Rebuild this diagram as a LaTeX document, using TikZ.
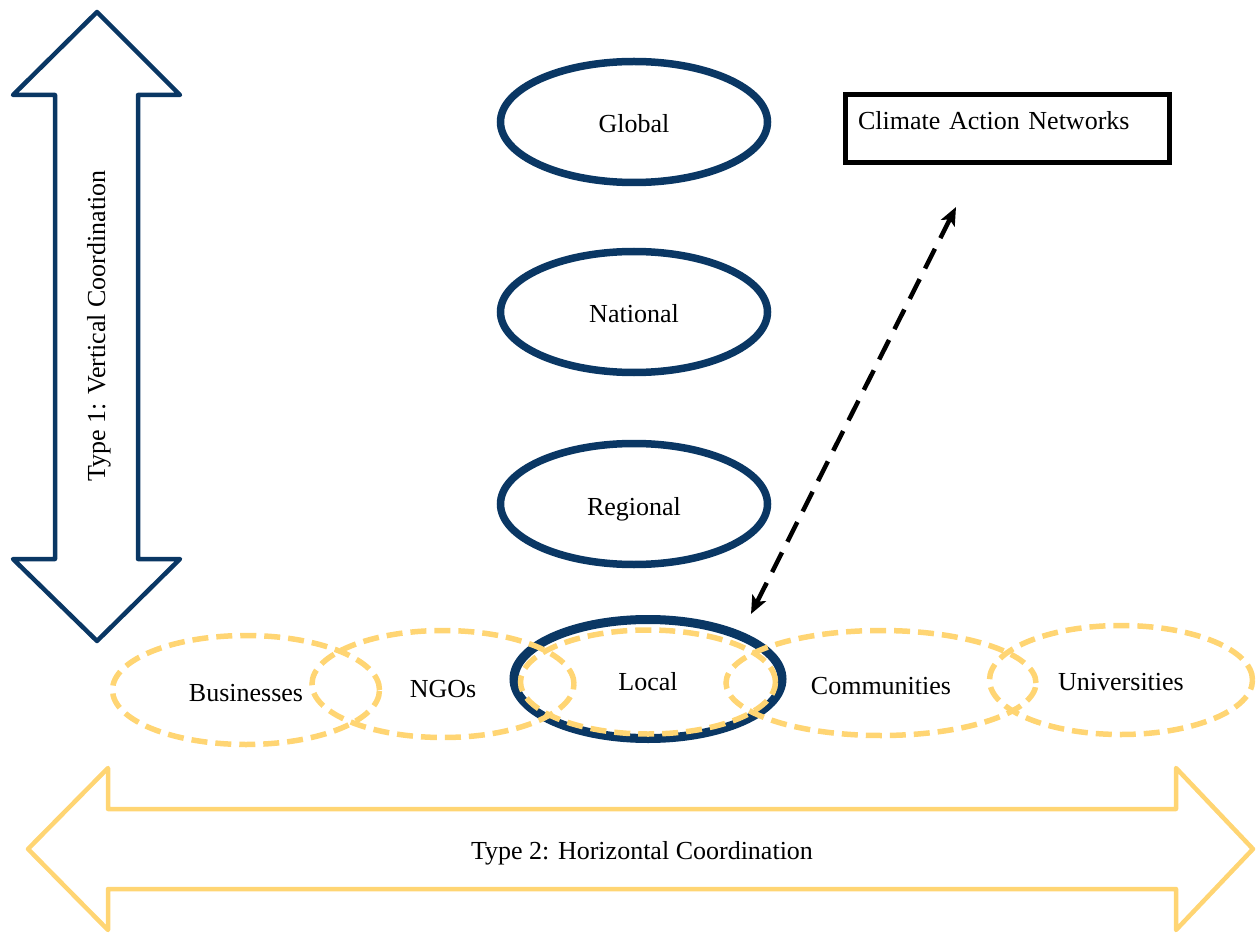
\documentclass[tikz,border=0pt]{standalone}
\usepackage{fontspec}
\setmainfont{Liberation Serif}
\usetikzlibrary{shapes.geometric,arrows.meta}
\definecolor{navy}{RGB}{10,55,100}
\definecolor{gold}{RGB}{255,213,115}
\tikzset{linktip/.tip={Stealth[length=18pt,width=15pt,inset=4pt]}}
\newcommand\lowtext[2][11pt]{\raisebox{-#1}[0pt][0pt]{#2}}
\begin{document}
\begin{tikzpicture}[x=1pt,y=-1pt,
  every node/.style={font=\fontsize{26}{31}\selectfont},
  level/.style={ellipse, draw=navy, line width=7.5pt, inner sep=0pt, minimum width=267pt, minimum height=121pt},
  actor/.style={ellipse, draw=gold, line width=5.5pt, dash pattern=on 16pt off 8pt, inner sep=0pt},
  bigarrow/.style={line width=4.5pt, line join=round}
]
\useasboundingbox (0,0) rectangle (1256,933);

% vertical arrow
\draw[bigarrow, draw=navy] (97,12) -- (180,95) -- (138,95) -- (138,559) -- (180,559) -- (97,641)
  -- (13,559) -- (55,559) -- (55,95) -- (13,95) -- cycle;
\node[rotate=90] (t1) at (99,326) {Type 1: Vertical Coordination};

% horizontal arrow
\draw[bigarrow, draw=gold] (28,849) -- (108,768) -- (108,809) -- (1176,809) -- (1176,768) -- (1253,849)
  -- (1176,930) -- (1176,889) -- (108,889) -- (108,930) -- cycle;
\node (t2) at (642,853) {Type 2: Horizontal Coordination};

% levels
\node[level] (global) at (634,122) {\lowtext{Global}};
\node[level] (national) at (634,312) {\lowtext{National}};
\node[level] (regional) at (634,504) {\lowtext{Regional}};
\node[level, line width=9pt, minimum width=268pt, minimum height=119pt] (local) at (648,679) {\lowtext{Local}};

% actors
\node[actor, minimum width=267pt, minimum height=109pt] (bus) at (246,690) {\lowtext{Businesses}};
\node[actor, minimum width=262pt, minimum height=107pt] (ngo) at (443,684) {\lowtext[13pt]{NGOs}};
\node[actor, minimum width=255pt, minimum height=104pt] (localring) at (648,682) {};
\node[actor, minimum width=310pt, minimum height=105pt] (comm) at (881,683) {\lowtext{Communities}};
\node[actor, minimum width=263pt, minimum height=109pt] (uni) at (1121,680) {\lowtext[10pt]{Universities}};

% climate action networks
\node[draw=black, line width=5pt, minimum width=324pt, minimum height=68pt, inner xsep=12.5pt, inner ysep=0pt,
      text width=299pt, align=left, text height=18pt, text depth=15pt] (can) at (1007.5,128.5) {Climate Action Networks};

\coordinate (a1) at (956,207);
\coordinate (a2) at (751,614);
\draw[line width=4.5pt, dash pattern=on 22pt off 12pt, linktip-linktip] (a2) -- (a1);
\end{tikzpicture}
\end{document}
